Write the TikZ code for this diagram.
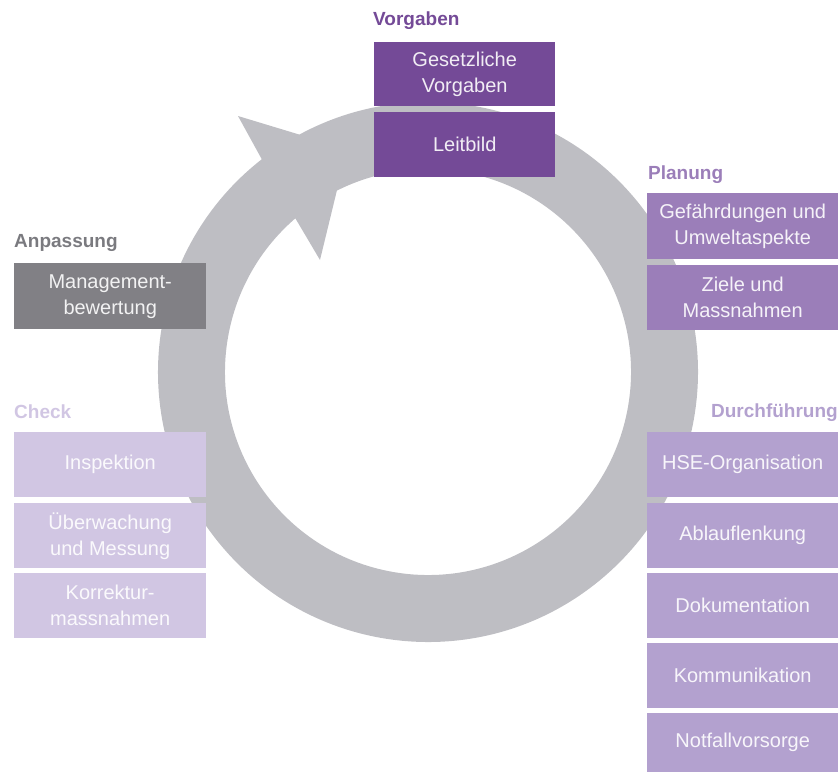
\documentclass[tikz,border=0pt]{standalone}
\usepackage{fontspec}
\setmainfont{Liberation Sans}
\definecolor{ringgray}{RGB}{190,190,195}
\definecolor{vorg}{RGB}{116,74,151}
\definecolor{plan}{RGB}{155,126,185}
\definecolor{durch}{RGB}{179,161,207}
\definecolor{chk}{RGB}{209,198,227}
\definecolor{anp}{RGB}{129,128,133}
\definecolor{anptitle}{RGB}{122,122,127}
\begin{document}
\begin{tikzpicture}[x=1pt,y=1pt,
  box/.style={rectangle, inner sep=0pt, align=center, text=white, text opacity=0.9,
    font=\fontsize{20}{26}\selectfont, anchor=north west},
  vbox/.style={box, fill=vorg, minimum width=181},
  pbox/.style={box, fill=plan, minimum width=191},
  dbox/.style={box, fill=durch, minimum width=191},
  cbox/.style={box, fill=chk, minimum width=192},
  abox/.style={box, fill=anp, minimum width=192},
  title/.style={inner sep=0pt, font=\bfseries\fontsize{19}{22}\selectfont}]
\useasboundingbox (0,0) rectangle (838,-774);
\coordinate (c) at (428,-372);
% ring arrow
\fill[ringgray] ([shift={(128:270)}]c) arc[start angle=128, end angle=-280, radius=270]
  -- ([shift={(80:203)}]c) arc[start angle=-280, end angle=130.8, radius=203]
  -- (320,-260) -- (347,-149) -- (238,-116) -- cycle;
% Vorgaben
\node[title, text=vorg, anchor=base west] (tv) at (373,-25) {Vorgaben};
\node[vbox, minimum height=64] (v1) at (374,-42) {Gesetzliche\\Vorgaben};
\node[vbox, minimum height=65] (v2) at (374,-112) {Leitbild};
% Planung
\node[title, text=plan, anchor=base west] (tp) at (648,-179) {Planung};
\node[pbox, minimum height=66] (p1) at (647,-193) {Gefährdungen und\\Umweltaspekte};
\node[pbox, minimum height=65] (p2) at (647,-265) {Ziele und\\Massnahmen};
% Anpassung
\node[title, text=anptitle, anchor=base west] (ta) at (14,-247) {Anpassung};
\node[abox, minimum height=66] (a1) at (14,-263) {Management-\\bewertung};
% Check
\node[title, text=chk, anchor=base west] (tc) at (14,-418) {Check};
\node[cbox, minimum height=65] (c1) at (14,-432) {Inspektion};
\node[cbox, minimum height=65] (c2) at (14,-503) {Überwachung\\und Messung};
\node[cbox, minimum height=65] (c3) at (14,-573) {Korrektur-\\massnahmen};
% Durchfuehrung
\node[title, text=durch, anchor=base east] (td) at (838,-417) {Durchführung};
\node[dbox, minimum height=65] (d1) at (647,-432) {HSE-Organisation};
\node[dbox, minimum height=65] (d2) at (647,-503) {Ablauflenkung};
\node[dbox, minimum height=65] (d3) at (647,-573) {Dokumentation};
\node[dbox, minimum height=65] (d4) at (647,-643) {Kommunikation};
\node[dbox, minimum height=59] (d5) at (647,-713) {Notfallvorsorge};
\end{tikzpicture}
\end{document}
